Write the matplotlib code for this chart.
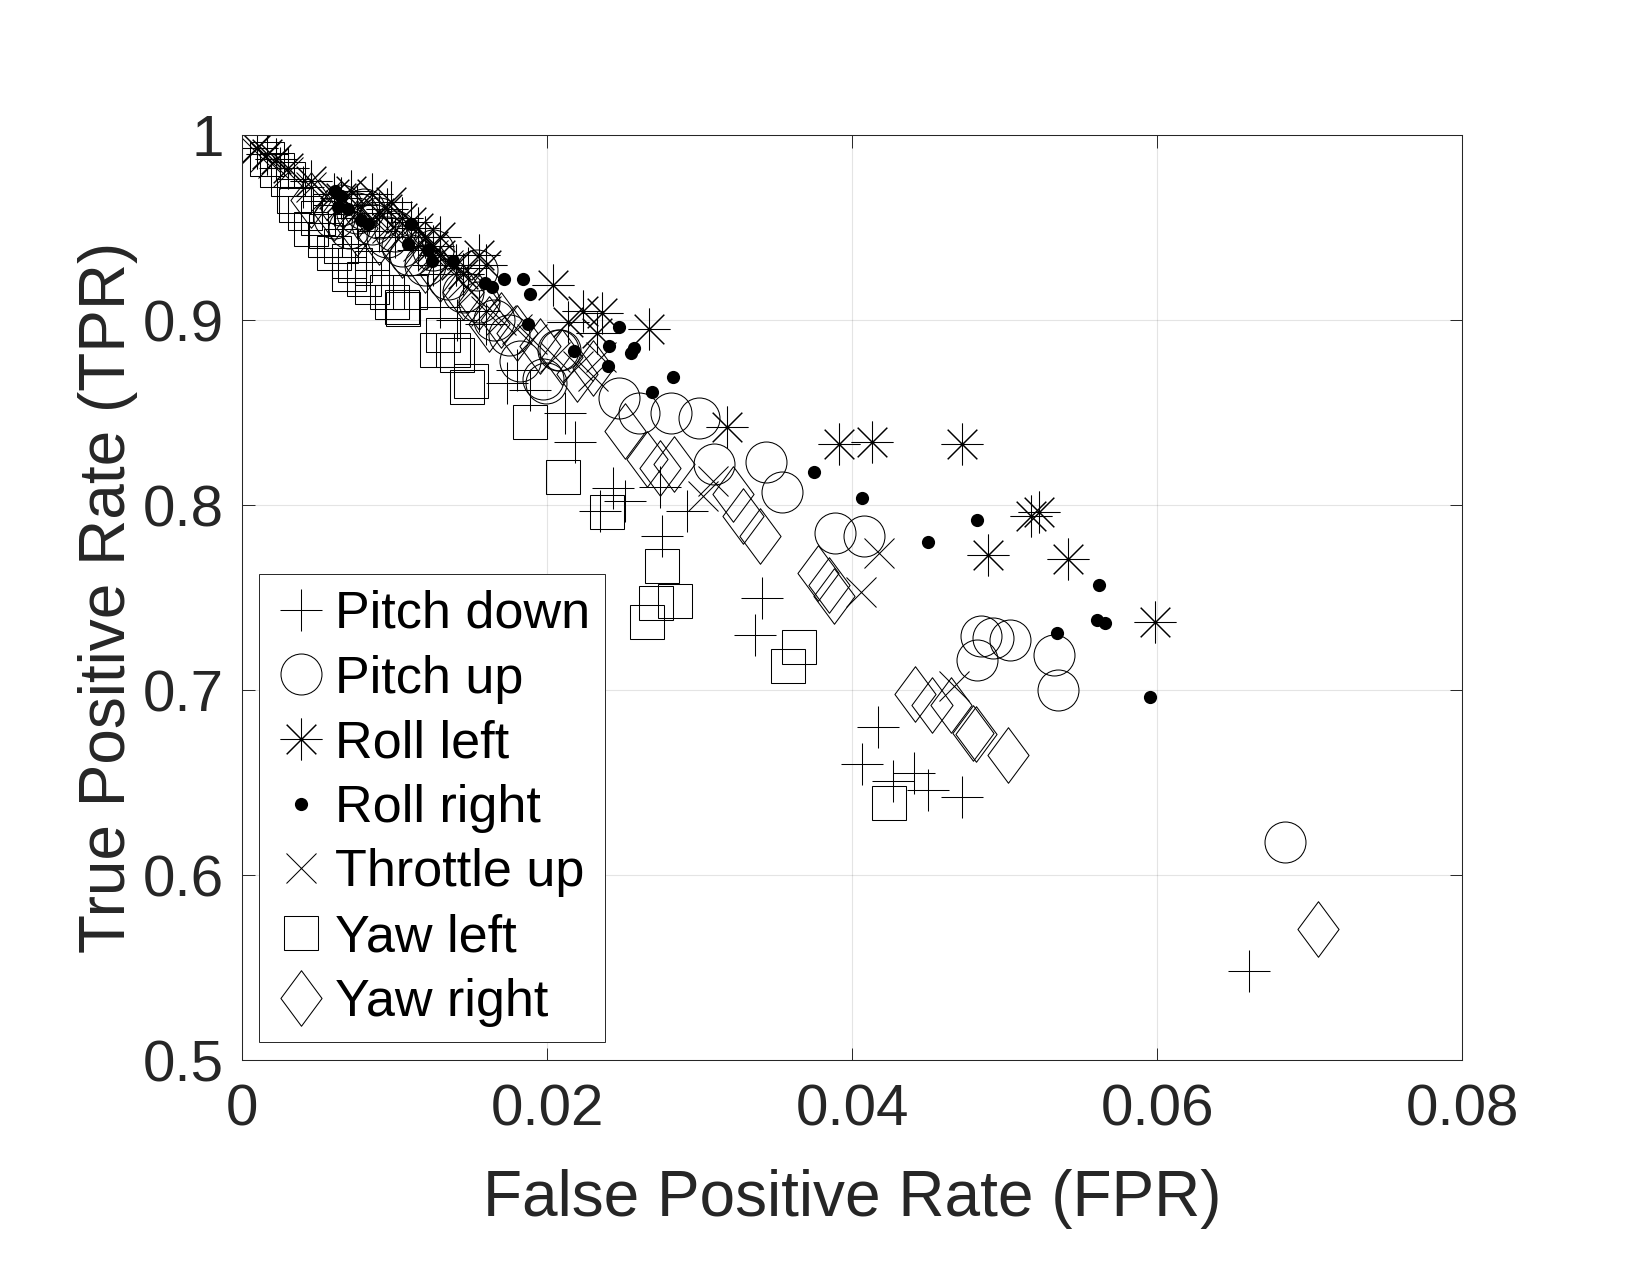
import matplotlib
matplotlib.use("Agg")
import matplotlib.pyplot as plt
from matplotlib.path import Path

plt.rcParams['font.family'] = ['Liberation Sans', 'DejaVu Sans']

# Pitch down (+)
pd_x = [0.0025, 0.004, 0.006, 0.0075, 0.009, 0.010, 0.0115, 0.0125, 0.013, 0.01482, 0.01296, 0.01406,
        0.0155, 0.016, 0.01734, 0.018, 0.01887, 0.02116, 0.0218, 0.02433, 0.02346, 0.0251, 0.0274,
        0.02914, 0.0275, 0.03408, 0.03364, 0.04169, 0.04063, 0.04269, 0.04402, 0.04497, 0.04721, 0.06603]
pd_y = [0.982, 0.972, 0.962, 0.955, 0.948, 0.945, 0.938, 0.930, 0.925, 0.928, 0.907, 0.900,
        0.905, 0.898, 0.866, 0.873, 0.862, 0.850, 0.834, 0.809, 0.797, 0.802, 0.810,
        0.797, 0.783, 0.750, 0.730, 0.680, 0.660, 0.651, 0.655, 0.646, 0.642, 0.548]

# Pitch up (o)
pu_x = [0.006, 0.0065, 0.007, 0.0075, 0.008, 0.0085, 0.009, 0.0095, 0.010, 0.0105, 0.011, 0.012,
        0.0125, 0.0135, 0.0145, 0.01537, 0.0155, 0.0165, 0.0175, 0.01821, 0.01974, 0.02072, 0.0199,
        0.02083, 0.02472, 0.02603, 0.02809, 0.02995, 0.03095, 0.03434, 0.03539, 0.03887, 0.04079,
        0.04844, 0.0492, 0.05032, 0.0482, 0.05323, 0.05347, 0.06839]
pu_y = [0.955, 0.962, 0.950, 0.958, 0.960, 0.952, 0.955, 0.945, 0.948, 0.940, 0.935, 0.930,
        0.938, 0.922, 0.915, 0.927, 0.910, 0.900, 0.892, 0.878, 0.868, 0.884, 0.866,
        0.884, 0.858, 0.850, 0.850, 0.847, 0.822, 0.823, 0.807, 0.785, 0.783,
        0.729, 0.728, 0.727, 0.716, 0.719, 0.700, 0.618]

# Roll left (asterisk)
rl_x = [0.001, 0.0016, 0.0022, 0.003, 0.0045, 0.006, 0.0065, 0.00713, 0.0075, 0.0085, 0.00975, 0.009,
        0.0095, 0.0105, 0.0111, 0.0115, 0.012, 0.0125, 0.01296, 0.013, 0.014, 0.0145, 0.0155, 0.016,
        0.02035, 0.02236, 0.02357, 0.02138, 0.02324, 0.02669, 0.03176, 0.03911, 0.04131, 0.04719,
        0.05172, 0.05224, 0.04892, 0.05416, 0.05985]
rl_y = [0.993, 0.990, 0.987, 0.982, 0.975, 0.968, 0.966, 0.970, 0.962, 0.968, 0.964, 0.958,
        0.960, 0.955, 0.953, 0.950, 0.945, 0.940, 0.945, 0.935, 0.930, 0.925, 0.935, 0.930,
        0.919, 0.905, 0.904, 0.899, 0.893, 0.895, 0.842, 0.833, 0.834, 0.833,
        0.794, 0.796, 0.773, 0.771, 0.737]

# Roll right (dot)
rr_x = [0.00606, 0.0065, 0.00628, 0.00693, 0.0078, 0.00824, 0.01108, 0.01087, 0.0122, 0.01242,
        0.0138, 0.01592, 0.01635, 0.01718, 0.01843, 0.01887, 0.01876, 0.02175, 0.02407, 0.02472,
        0.0257, 0.0255, 0.024, 0.02687, 0.02822, 0.03749, 0.04064, 0.0482, 0.04494, 0.0562,
        0.05606, 0.05657, 0.0534, 0.05952]
rr_y = [0.970, 0.967, 0.961, 0.960, 0.954, 0.952, 0.952, 0.941, 0.938, 0.932,
        0.932, 0.920, 0.918, 0.922, 0.922, 0.914, 0.898, 0.883, 0.886, 0.896,
        0.885, 0.882, 0.875, 0.861, 0.869, 0.818, 0.804, 0.792, 0.780, 0.757,
        0.738, 0.736, 0.731, 0.696]

# Throttle up (x)
tu_x = [0.0008, 0.0015, 0.002, 0.003, 0.0045, 0.0055, 0.0065, 0.0075, 0.0085, 0.0095, 0.0105, 0.0115,
        0.0125, 0.0135, 0.0145, 0.015, 0.016, 0.017, 0.018, 0.019, 0.0205, 0.022, 0.023, 0.0235,
        0.0309, 0.0302, 0.04173, 0.04057, 0.04667]
tu_y = [0.992, 0.988, 0.985, 0.980, 0.972, 0.967, 0.962, 0.958, 0.955, 0.950, 0.946, 0.940,
        0.935, 0.930, 0.920, 0.915, 0.905, 0.900, 0.895, 0.890, 0.880, 0.875, 0.870, 0.880,
        0.813, 0.805, 0.774, 0.753, 0.702]

# Yaw left (square)
yl_x = [0.0016, 0.0023, 0.003, 0.0034, 0.0035, 0.0041, 0.0045, 0.005, 0.0054, 0.0055, 0.006, 0.0065,
        0.007, 0.0074, 0.007, 0.008, 0.0085, 0.0085, 0.0095, 0.0098, 0.0105, 0.01056, 0.011, 0.01318,
        0.01279, 0.01384, 0.01406, 0.01471, 0.015, 0.01887, 0.02101, 0.0239, 0.02754, 0.02713,
        0.02837, 0.02652, 0.0365, 0.0358, 0.0424]
yl_y = [0.987, 0.981, 0.976, 0.967, 0.962, 0.958, 0.949, 0.955, 0.943, 0.948, 0.936, 0.940,
        0.932, 0.930, 0.925, 0.922, 0.918, 0.928, 0.915, 0.910, 0.907, 0.906, 0.915, 0.892,
        0.884, 0.884, 0.881, 0.864, 0.867, 0.845, 0.815, 0.796, 0.767, 0.747,
        0.748, 0.737, 0.723, 0.713, 0.639]

# Yaw right (diamond)
yr_x = [0.0045, 0.006, 0.0075, 0.009, 0.0105, 0.012, 0.013, 0.0145, 0.0155, 0.0162, 0.017, 0.018,
        0.0195, 0.021, 0.02193, 0.02302, 0.0251, 0.02652, 0.0283, 0.02739, 0.0322, 0.03285, 0.03395,
        0.03777, 0.0385, 0.03882, 0.04409, 0.04522, 0.04647, 0.04793, 0.0481, 0.05019, 0.07052]
yr_y = [0.965, 0.958, 0.950, 0.945, 0.938, 0.930, 0.925, 0.915, 0.910, 0.898, 0.900, 0.893,
        0.886, 0.880, 0.871, 0.874, 0.840, 0.825, 0.822, 0.820, 0.806, 0.794, 0.783,
        0.763, 0.757, 0.751, 0.698, 0.692, 0.692, 0.677, 0.676, 0.665, 0.571]

labels = ['Pitch down', 'Pitch up', 'Roll left', 'Roll right', 'Throttle up', 'Yaw left', 'Yaw right']
x_ticks = [0, 0.02, 0.04, 0.06, 0.08]
x_tick_labels = ['0', '0.02', '0.04', '0.06', '0.08']
y_ticks = [0.5, 0.6, 0.7, 0.8, 0.9, 1.0]
y_tick_labels = ['0.5', '0.6', '0.7', '0.8', '0.9', '1']

dark = '#262626'
diamond = Path([(0, 1), (0.74, 0), (0, -1), (-0.74, 0), (0, 1)],
               [Path.MOVETO, Path.LINETO, Path.LINETO, Path.LINETO, Path.CLOSEPOLY])

fig = plt.figure(figsize=(16.5, 12.75), dpi=100)
ax = fig.add_axes([0.1468, 0.1686, 0.7394, 0.7255])

lw = 0.75
ax.plot(pd_x, pd_y, ls='none', marker='+', ms=30, mew=lw, color='k', label=labels[0])
ax.plot(pu_x, pu_y, ls='none', marker='o', ms=29.5, mew=lw, mfc='none', color='k', label=labels[1])
ax.plot(rl_x, rl_y, ls='none', marker=(8, 2, 0), ms=30, mew=lw, color='k', label=labels[2])
ax.plot(rr_x, rr_y, ls='none', marker='o', ms=9.5, mew=0, color='k', label=labels[3])
ax.plot(tu_x, tu_y, ls='none', marker='x', ms=21, mew=lw, color='k', label=labels[4])
ax.plot(yl_x, yl_y, ls='none', marker='s', ms=24, mew=lw, mfc='none', color='k', label=labels[5])
ax.plot(yr_x, yr_y, ls='none', marker=diamond, ms=40, mew=lw, mfc='none', color='k', label=labels[6])

ax.set_xlim(0, 0.08)
ax.set_ylim(0.5, 1.0)
ax.set_xticks(x_ticks)
ax.set_xticklabels(x_tick_labels)
ax.set_yticks(y_ticks)
ax.set_yticklabels(y_tick_labels)
ax.tick_params(direction='in', length=9, width=0.7, colors=dark, labelsize=42,
               top=True, right=True)
ax.tick_params(axis='x', pad=17)
ax.tick_params(axis='y', pad=13)
ax.grid(True, color=dark, alpha=0.12, lw=0.8)
ax.set_axisbelow(True)
for s in ax.spines.values():
    s.set_color(dark)
    s.set_linewidth(0.75)

ax.set_xlabel('False Positive Rate (FPR)', fontsize=46, color=dark)
ax.set_ylabel('True Positive Rate (TPR)', fontsize=46, color=dark)
ax.xaxis.label.set_va('center')
ax.yaxis.label.set_va('center')
ax.xaxis.set_label_coords(0.5, -0.15)
ax.yaxis.set_label_coords(-0.11, 0.5)

leg = ax.legend(loc='lower left', bbox_to_anchor=(0.0139, 0.0191), borderaxespad=0,
                fontsize=37.5, frameon=True, fancybox=False, framealpha=1, edgecolor=dark,
                borderpad=0.3, handlelength=1.0, handletextpad=0.15, labelspacing=0.3,
                markerscale=1)
leg.get_frame().set_linewidth(0.7)
for t in leg.get_texts():
    t.set_color('k')

fig.savefig('out.png', dpi=100, facecolor='white')
